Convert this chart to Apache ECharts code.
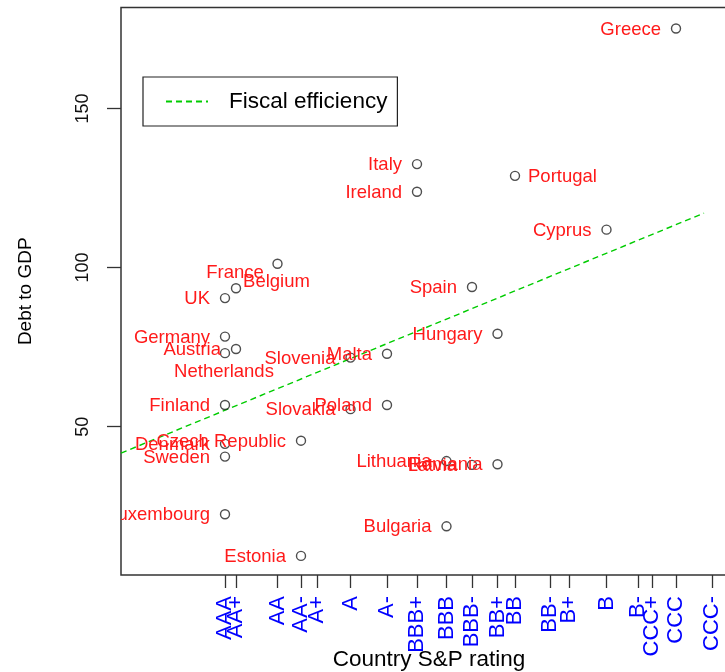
<!DOCTYPE html>
<html>
<head>
<meta charset="utf-8">
<script src="https://cdn.jsdelivr.net/npm/echarts@6/dist/echarts.min.js"></script>
<style>
  html, body { margin: 0; padding: 0; background: #ffffff; }
  #chart { width: 725px; height: 672px; }
</style>
</head>
<body>
<div id="chart"></div>
<script>
// S&P rating scale and the position of each grade on the horizontal axis
const ratings = ['AAA', 'AA+', 'AA', 'AA-', 'A+', 'A', 'A-', 'BBB+', 'BBB', 'BBB-',
  'BB+', 'BB', 'BB-', 'B+', 'B', 'B-', 'CCC+', 'CCC', 'CCC-'];
const ratingScore = [0, 1.1, 5.25, 7.6, 9.2, 12.55, 16.2, 19.2, 22.15, 24.7,
  27.25, 29.0, 32.5, 34.4, 38.15, 41.3, 42.7, 45.1, 48.7];

// Countries, their rating and public debt (% of GDP)
const countries = ['Greece', 'Italy', 'Portugal', 'Ireland', 'Cyprus', 'Belgium', 'Spain',
  'France', 'UK', 'Hungary', 'Germany', 'Austria', 'Netherlands', 'Malta', 'Slovenia',
  'Finland', 'Poland', 'Slovakia', 'Czech Republic', 'Denmark', 'Sweden', 'Lithuania',
  'Romania', 'Latvia', 'Luxembourg', 'Bulgaria', 'Estonia'];
const countryRating = ['CCC', 'BBB+', 'BB', 'BBB+', 'B', 'AA', 'BBB-',
  'AA+', 'AAA', 'BB+', 'AAA', 'AA+', 'AAA', 'A-', 'A',
  'AAA', 'A-', 'A', 'AA-', 'AAA', 'AAA', 'BBB',
  'BB+', 'BBB-', 'AAA', 'BBB', 'AA-'];
const debtToGdp = [175.1, 132.5, 128.8, 123.8, 111.9, 101.2, 93.9,
  93.5, 90.4, 79.2, 78.3, 74.4, 73.1, 72.9, 71.7,
  56.8, 56.8, 55.5, 45.6, 44.6, 40.6, 39.2,
  38.2, 38.0, 22.5, 18.7, 9.4];

// Fitted "fiscal efficiency" line end points
const fitX = [-10.4, 47.9];
const fitY = [41.7, 117.1];

// Y axis tick values
const yTicks = [50, 100, 150];

// Which side of its point each name is written on (default: left)
const labelSide = { France: 'top', Belgium: 'bottom', Netherlands: 'bottom', Portugal: 'right' };

const FONT = '"Liberation Sans", Arial, sans-serif';
const scoreOf = r => ratingScore[ratings.indexOf(r)];
const points = countries.map((c, i) => [scoreOf(countryRating[i]), debtToGdp[i]]);
const fitLine = fitX.map((x, i) => [x, fitY[i]]);

// Neighbouring grades sit very close together, so the tick labels are split
// over two overlaid axes (even / odd grades) to keep every one of them drawn.
const evenScores = ratingScore.filter((s, i) => i % 2 === 0);
const oddScores = ratingScore.filter((s, i) => i % 2 === 1);
const gradeName = v => {
  const k = ratingScore.findIndex(s => Math.abs(s - v) < 1e-6);
  return k >= 0 ? ratings[k] : '';
};
const X_MIN = -10.4, X_MAX = 51.2;
const xLabelStyle = {
  rotate: 90, margin: 21,
  fontFamily: FONT, fontSize: 22, color: '#0000ff',
  hideOverlap: false,
  formatter: gradeName
};

const chart = echarts.init(document.getElementById('chart'), null, { renderer: 'canvas' });

chart.setOption({
  animation: false,
  backgroundColor: '#ffffff',
  grid: {
    left: 121, top: 7.5, width: 616, bottom: 97,
    containLabel: false,
    outerBoundsMode: 'none',
    show: true, borderColor: '#333333', borderWidth: 1.5, backgroundColor: 'transparent'
  },
  legend: {
    data: ['Fiscal efficiency'],
    left: 143, top: 77,
    orient: 'horizontal',
    padding: [13, 10, 13, 22],
    itemWidth: 42, itemHeight: 20,
    borderColor: '#222222', borderWidth: 1.2, borderRadius: 0,
    backgroundColor: '#ffffff',
    selectedMode: false,
    itemStyle: { color: 'rgba(0,0,0,0)', borderWidth: 0 },
    textStyle: { fontFamily: FONT, fontSize: 22.5, color: '#000000', padding: [0, 0, 0, 16] }
  },
  xAxis: [
    {
      type: 'value',
      position: 'bottom',
      min: X_MIN, max: X_MAX,
      name: 'Country S&P rating',
      nameLocation: 'middle',
      nameGap: 73,
      nameMoveOverlap: false,
      nameTextStyle: { fontFamily: FONT, fontSize: 22.5, color: '#000000', verticalAlign: 'top' },
      axisLine: { show: false, onZero: false },
      splitLine: { show: false },
      axisTick: {
        show: true, length: 13, inside: false,
        customValues: ratingScore,
        lineStyle: { color: '#333333', width: 1.3 }
      },
      axisLabel: Object.assign({ customValues: evenScores }, xLabelStyle)
    },
    {
      type: 'value',
      position: 'bottom',
      offset: 0,
      min: X_MIN, max: X_MAX,
      axisLine: { show: false, onZero: false },
      splitLine: { show: false },
      axisTick: { show: false },
      axisLabel: Object.assign({ customValues: oddScores }, xLabelStyle)
    }
  ],
  yAxis: {
    type: 'value',
    min: 3.4, max: 181.7,
    name: 'Debt to GDP',
    nameLocation: 'middle',
    nameRotate: 90,
    nameGap: 86,
    nameMoveOverlap: false,
    nameTextStyle: { fontFamily: FONT, fontSize: 19, color: '#000000' },
    axisLine: { show: false, onZero: false },
    splitLine: { show: false },
    axisTick: {
      show: true, length: 14, inside: false,
      customValues: yTicks,
      lineStyle: { color: '#333333', width: 1.3 }
    },
    axisLabel: {
      customValues: yTicks,
      rotate: 90,
      margin: 29,
      fontFamily: FONT, fontSize: 18, color: '#111111'
    }
  },
  series: [
    {
      name: 'Fiscal efficiency',
      type: 'line',
      data: fitLine,
      symbol: 'none',
      clip: true,
      silent: true,
      lineStyle: { color: '#00cc00', width: 1.4, type: [6, 4] },
      itemStyle: { color: '#00cc00' },
      z: 3
    },
    {
      name: 'countries',
      type: 'scatter',
      data: points,
      symbol: 'circle',
      symbolSize: 9,
      silent: true,
      itemStyle: { color: 'rgba(0,0,0,0)', borderColor: '#222222', borderWidth: 1.4 },
      z: 4
    },
    {
      name: 'names',
      type: 'custom',
      data: points,
      clip: true,
      silent: true,
      z: 5,
      renderItem: (params, api) => {
        const p = api.coord([api.value(0), api.value(1)]);
        const name = countries[params.dataIndex];
        const side = labelSide[name] || 'left';
        let x = p[0], y = p[1] + 1, align = 'right';
        if (side === 'left') { x -= 15; }
        else if (side === 'right') { x += 13; align = 'left'; }
        else if (side === 'top') { y -= 16.5; align = 'center'; x -= 1; }
        else { y += 17.5; align = 'center'; x -= 1; }
        return {
          type: 'text',
          x: x, y: y,
          style: {
            text: name,
            fill: '#ff1a1a',
            font: '18.5px ' + FONT,
            align: align,
            verticalAlign: 'middle'
          }
        };
      }
    }
  ]
});
</script>
</body>
</html>
